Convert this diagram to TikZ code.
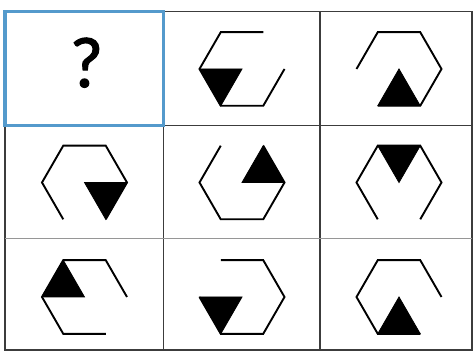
\documentclass[tikz,border=0pt]{standalone}
\usepackage{fontspec}
\setmainfont{Carlito}
\newfontfamily\qfont[FakeBold=1.6]{Carlito}
\definecolor{gridcol}{RGB}{60,60,60}
\definecolor{lightgrid}{RGB}{150,150,150}
\definecolor{selblue}{RGB}{84,154,204}
\tikzset{
  gridline/.style={draw=gridcol,line width=1.8pt},
  hexline/.style={draw=black,line width=1.9pt,line join=miter},
  tri/.style={fill=black,draw=black,line width=0.8pt,line join=miter},
  selbox/.style={draw=selblue,line width=3.6pt}
}
\newcommand{\hexcell}[4]{%
  \begin{scope}[shift={(#1,#2)}]
    \coordinate (O) at (0,0);
    \coordinate (R) at (0:42.5);
    \coordinate (TR) at (60:42.5);
    \coordinate (TL) at (120:42.5);
    \coordinate (L) at (180:42.5);
    \coordinate (BL) at (240:42.5);
    \coordinate (BR) at (300:42.5);
    \fill[tri] #4 -- cycle;
    \draw[hexline] #3;
  \end{scope}}
\begin{document}
\begin{tikzpicture}[x=1pt,y=1pt]
\useasboundingbox (0,0) rectangle (474,352);
\fill[white] (0,0) rectangle (474,352);
% grid
\draw[gridline] (5,2) rectangle (472,340.5);
\draw[gridline] (163.5,2) -- (163.5,340.5);
\draw[gridline] (320,2) -- (320,340.5);
\draw[gridline] (5,226.5) -- (472,226.5);
\draw[gridline,draw=lightgrid] (5,113.5) -- (472,113.5);
% selected cell
\draw[selbox] (5,226.5) rectangle (163.5,340.5);
\node[font=\qfont\fontsize{72}{72}\selectfont,anchor=base,inner sep=0pt] (q) at (86.5,265) {?};
% row 1
\hexcell{242}{283}{(TR)--(TL)--(L)--(BL)--(BR)--(R)}{(L)--(O)--(BL)}
\hexcell{399}{283}{(L)--(TL)--(TR)--(R)--(BR)--(BL)}{(O)--(BL)--(BR)}
% row 2
\hexcell{84.5}{169.5}{(BL)--(L)--(TL)--(TR)--(R)--(BR)}{(O)--(R)--(BR)}
\hexcell{242}{169.5}{(TL)--(L)--(BL)--(BR)--(R)--(TR)}{(O)--(R)--(TR)}
\hexcell{399}{169.5}{(BL)--(L)--(TL)--(TR)--(R)--(BR)}{(TL)--(TR)--(O)}
% row 3
\hexcell{84.5}{55}{(R)--(TR)--(TL)--(L)--(BL)--(BR)}{(L)--(TL)--(O)}
\hexcell{242}{55}{(L)--(BL)--(BR)--(R)--(TR)--(TL)}{(L)--(O)--(BL)}
\hexcell{399}{55}{(R)--(TR)--(TL)--(L)--(BL)--(BR)}{(O)--(BL)--(BR)}
\end{tikzpicture}
\end{document}
